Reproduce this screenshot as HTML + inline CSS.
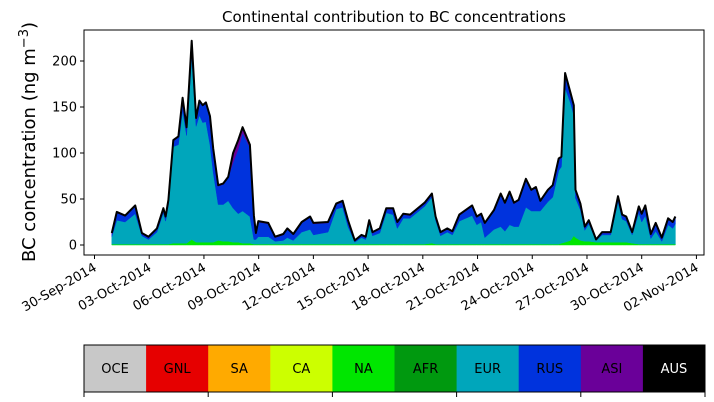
<!DOCTYPE html>
<html><head><meta charset="utf-8"><style>
html,body{margin:0;padding:0;background:#fff;}
svg{display:block;font-family:"DejaVu Sans","Liberation Sans",sans-serif;}
</style></head><body>
<svg id="chart" width="714" height="402" viewBox="0 0 714 402" xmlns="http://www.w3.org/2000/svg"></svg>
<script>
const days=[0.95,1.22,1.68,2.23,2.6,2.96,3.42,3.78,3.9,4.05,4.32,4.6,4.83,5.05,5.33,5.57,5.75,5.93,6.11,6.33,6.51,6.78,7.06,7.33,7.6,7.88,8.12,8.52,8.74,8.85,8.98,9.53,9.9,10.35,10.57,10.9,11.36,11.82,12.0,12.8,13.25,13.6,13.9,14.27,14.64,14.87,15.06,15.24,15.64,16.0,16.37,16.6,16.93,17.3,18.1,18.5,18.7,18.97,19.34,19.62,20.0,20.7,20.96,21.2,21.4,21.9,22.27,22.5,22.76,23.0,23.25,23.65,23.95,24.2,24.44,24.86,25.12,25.45,25.6,25.8,26.1,26.28,26.37,26.64,26.88,27.1,27.5,27.83,28.3,28.7,28.93,29.15,29.48,29.84,30.0,30.2,30.5,30.77,31.1,31.45,31.7,31.85];
const naVals=[1,1,1,1,1,1,1,1,1,1,2,2,2,2,6,3,3,3,3,3,3,5,4,4,3,3,2,2,1,1,1,1,1,1,1,1,1,1,1,1,1,1,1,1,1,1,1,1,1,1,1,1,1,1,1,2,1,1,1,1,1,1,1,1,1,1,1,1,1,1,1,1,1,1,1,1,1,1,2,3,5,10,8,5,4,4,3,3,3,3,3,3,2,1,1,1,1,1,1,1,1,1];
const eurVals=[8,26,24,33,9,5,13,34,25,42,105,107,144,117,199,126,138,130,131,106,76,39,40,44,37,31,35,29,5,5,8,8,3,4,7,4,13,16,10,13,38,40,19,2,7,5,22,9,12,34,32,17,28,28,41,50,26,9,13,10,25,31,21,24,7,16,19,14,21,19,19,40,36,36,36,46,51,80,83,168,149,131,43,33,12,19,2,8,8,44,25,23,9,34,24,31,6,14,3,21,17,22];
const rusVals=[3,8,6,8,2,2,3,4,4,5,6,8,12,8,15,8,15,18,20,30,25,20,22,25,50,70,85,75,25,6,16,14,4,6,9,6,10,13,12,10,5,6,6,1,2,2,3,3,4,4,6,6,4,3,3,3,3,3,3,3,6,10,8,8,15,20,35,30,35,25,28,30,22,25,10,12,12,12,10,15,10,10,8,5,3,3,1,2,2,5,4,4,2,6,8,10,4,8,3,6,6,7];
const asiVals=[1,1,1,1,1,1,1,1,1,1,1,1,2,1,2,1,1,1,1,1,1,1,1,1,10,10,6,3,1,1,1,1,1,1,1,1,1,1,1,1,1,1,1,1,1,1,1,1,1,1,1,1,1,1,1,1,1,1,1,1,1,1,1,1,1,1,1,1,1,1,1,1,1,1,1,1,1,1,1,1,1,1,1,2,1,1,0,1,1,1,1,1,1,1,1,1,1,1,1,1,1,1];
const yTicks=[0,50,100,150,200];
const xTickLabels=["30-Sep-2014","03-Oct-2014","06-Oct-2014","09-Oct-2014","12-Oct-2014","15-Oct-2014","18-Oct-2014","21-Oct-2014","24-Oct-2014","27-Oct-2014","30-Oct-2014","02-Nov-2014"];
const regions=["OCE","GNL","SA","CA","NA","AFR","EUR","RUS","ASI","AUS"];
const regionColors=["#c8c8c8","#e60000","#ffaa00","#ccff00","#00e600","#00990f","#00a6bb","#0033dd","#6a0099","#000000"];

const svg=document.getElementById('chart');
const NS="http://www.w3.org/2000/svg";
const L=84,R=704,T=30,B=255;
function X(d){return 94.5+d*18.24;}
function Y(v){return 245-v*0.92;}
function mk(tag,attrs,parent){const e=document.createElementNS(NS,tag);for(const k in attrs)e.setAttribute(k,attrs[k]);(parent||svg).appendChild(e);return e;}

const layers=[[naVals,"#00e600","area-na"],[eurVals,"#00a6bb","area-eur"],[rusVals,"#0033dd","area-rus"],[asiVals,"#6a0099","area-asi"]];
let base=days.map(()=>0);
const gA=mk('g',{});


layers.forEach(([vals,col,name])=>{
  const top=base.map((b,i)=>b+vals[i]);
  let d="M"+days.map((t,i)=>X(t).toFixed(1)+","+Y(top[i]).toFixed(1)).join("L");
  for(let i=days.length-1;i>=0;i--)d+="L"+X(days[i]).toFixed(1)+","+Y(base[i]).toFixed(1);
  const p=mk('path',{d:d+"Z",fill:col,stroke:col,'stroke-width':0.5},gA);
  
  
  base=top;
});
const tl=mk('path',{d:"M"+days.map((t,i)=>X(t).toFixed(1)+","+Y(base[i]).toFixed(1)).join("L"),fill:"none",stroke:"#000","stroke-width":2,"stroke-linejoin":"round"});



const fr=mk('rect',{x:L,y:T,width:R-L,height:B-T,fill:"none",stroke:"#000","stroke-width":1});



yTicks.forEach(v=>{
  mk('line',{x1:L-4,x2:L,y1:Y(v),y2:Y(v),stroke:"#000"});
  const t=mk('text',{x:L-7,y:Y(v)+4.5,'text-anchor':'end','font-size':13});
  t.textContent=v;
  
  
});
xTickLabels.forEach((s,i)=>{
  const x=X(i*3);
  mk('line',{x1:x,x2:x,y1:B,y2:B+4,stroke:"#000"});
  const t=mk('text',{x:x+3,y:B+15,'text-anchor':'end','font-size':13,transform:`rotate(-30 ${x+3} ${B+15})`});
  t.textContent=s;
  
  
});

const ttl=mk('text',{x:394,y:22,'text-anchor':'middle','font-size':15});
ttl.textContent="Continental contribution to BC concentrations";



const yl=mk('text',{x:35,y:142,'text-anchor':'middle','font-size':18,transform:'rotate(-90 35 142)'});
yl.innerHTML='BC concentration (ng m<tspan dy="-7" font-size="13">−3</tspan><tspan dy="7">)</tspan>';



const cw=(R+1-L)/regions.length;
regions.forEach((r,i)=>{
  const c=mk('rect',{x:L+i*cw,y:345,width:cw+0.5,height:47,fill:regionColors[i]});
  
  
  const t=mk('text',{x:L+i*cw+cw/2,y:373,'text-anchor':'middle','font-size':13,fill:r==="AUS"?"#fff":"#000"});
  t.textContent=r;
  
  
});
const cb=mk('rect',{x:L,y:345,width:R+1-L,height:47,fill:"none",stroke:"#000"});


for(let i=0;i<=regions.length;i+=2){mk('line',{x1:L+i*cw,x2:L+i*cw,y1:392,y2:397,stroke:"#000"});}
</script>
</body></html>
